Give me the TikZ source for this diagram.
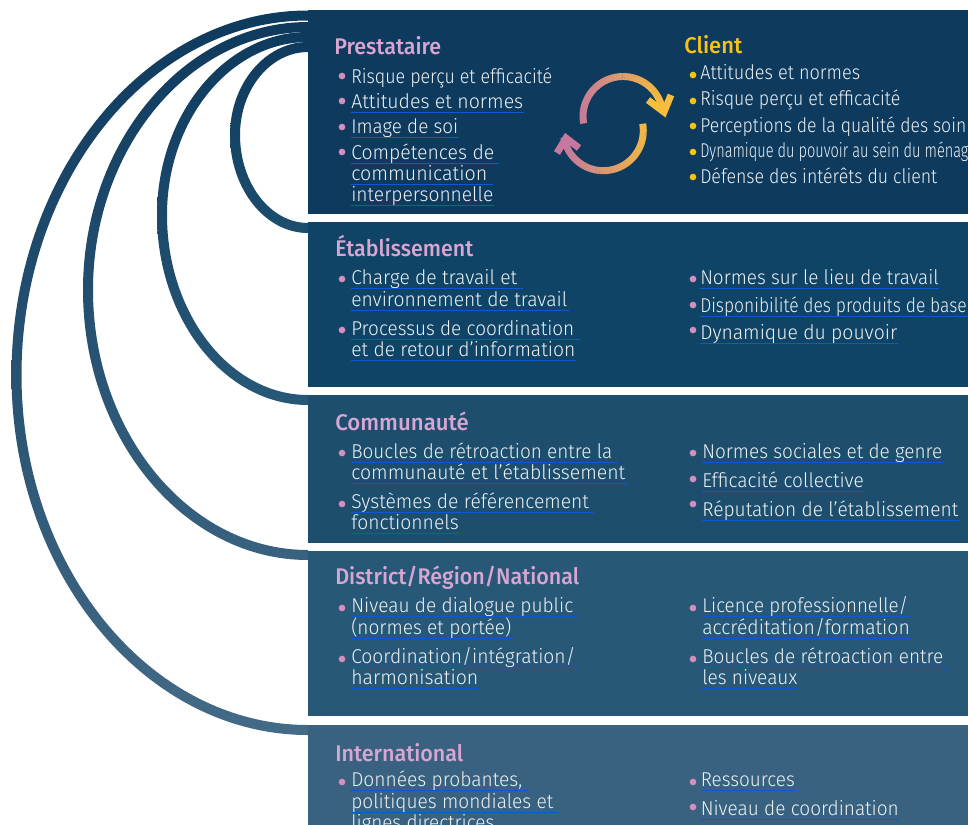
\documentclass[tikz,border=0pt]{standalone}
\usepackage{fontspec}
\setmainfont{Fira Sans}[UprightFont=* Light,BoldFont=* Medium]
\definecolor{bandA}{HTML}{0E3A5E}
\definecolor{bandB}{HTML}{0F4466}
\definecolor{bandC}{HTML}{1D4E6E}
\definecolor{bandD}{HTML}{285877}
\definecolor{bandE}{HTML}{38627F}
\definecolor{arcEnd}{HTML}{436A86}
\definecolor{pinkT}{HTML}{D8A6D2}
\definecolor{pinkB}{HTML}{D48FBE}
\definecolor{yellowT}{HTML}{F7C311}
\definecolor{ulblue}{HTML}{0A5AD2}
\definecolor{bodytxt}{HTML}{EEF2F5}
\definecolor{loopL}{HTML}{C6789F}
\definecolor{loopR}{HTML}{F6BE3A}
\newcounter{tn}
\newlength{\pxu}\setlength{\pxu}{0.75pt}
\tikzset{
  x=0.75pt,y=-0.75pt,
  band/.style={fill=#1,draw=none},
  title/.style={anchor=base west,inner sep=0pt,font=\fontsize{17}{19}\selectfont\bfseries},
  line/.style={anchor=base west,inner sep=0pt,text=bodytxt,font=\fontsize{15}{17}\selectfont},
  ulpath/.style={draw=ulblue,line width=1.1pt},
  dot/.style={circle,fill=#1,inner sep=0pt,minimum size=5pt},
  loopseg/.style={line width=5.2pt},
}
% text with a target width in px
\newcommand{\fitw}[2]{\resizebox{#1\pxu}{\height}{#2}}
\newcommand{\tl}[4]{\stepcounter{tn}\node[line] (t\thetn) at (#1,#2) {\fitw{#3}{#4}};}
% x, baseline, text width, extra underline width, text
\newcommand{\ult}[5]{\stepcounter{tn}\node[line] (t\thetn) at (#1,#2) {\fitw{#3}{#5}};
  \draw[ulpath] ([yshift=-3.2pt]t\thetn.base west) -- ([xshift=#4\pxu,yshift=-3.2pt]t\thetn.base east);}
\newcommand{\ttl}[6]{\node[title,text=#4] (#1) at (#2,#3) {\fitw{#5}{#6}};}
\newcommand{\arcband}[7]{%
  \shade[top color=#6,bottom color=#7]
   (308,#2-#5) .. controls (308-.55*308+.55*#1-.55*#5,#2-#5) and (#1-#5,#3-.55*#3+.55*#2-.55*#5) .. (#1-#5,#3)
   .. controls (#1-#5,#3+.55*#4-.55*#3+.55*#5) and (308-.55*308+.55*#1-.55*#5,#4+#5) .. (308,#4+#5)
   -- (308,#4-#5)
   .. controls (308-.55*308+.55*#1+.55*#5,#4-#5) and (#1+#5,#3+.55*#4-.55*#3-.55*#5) .. (#1+#5,#3)
   .. controls (#1+#5,#3-.55*#3+.55*#2+.55*#5) and (308-.55*308+.55*#1+.55*#5,#2+#5) .. (308,#2+#5)
   -- cycle;}
\begin{document}
\begin{tikzpicture}
\useasboundingbox (0,0) rectangle (968,825);
\clip (0,0) rectangle (968,825);
\fill[white] (0,0) rectangle (968,825);
% arcs
\arcband{16.5}{15.5}{375}{730}{5}{bandA}{arcEnd}
\arcband{88}{27}{290}{555}{5}{bandA}{bandE}
\arcband{162}{37}{215}{400}{5}{bandA}{bandD}
\arcband{235}{47}{135}{228}{5}{bandA}{bandC}
% bands
\fill[band=bandA] (308,10) rectangle (968,214);
\fill[band=bandB] (308,222) rectangle (968,387);
\fill[band=bandC] (308,395) rectangle (968,543);
\fill[band=bandD] (308,551) rectangle (968,716);
\fill[band=bandE] (308,725) rectangle (968,825);
% loop arrows
\foreach \a in {190,187,...,10}{
  \pgfmathsetmacro{\xa}{623+40*cos(\a)}
  \pgfmathsetmacro{\m}{max(0,min(100,100*(1-(\xa-575)/90)))}
  \draw[loopseg,color=loopL!\m!loopR] ({623+40*cos(\a)},{116.5-40*sin(\a)}) -- ({623+40*cos(\a-3.5)},{116.5-40*sin(\a-3.5)});
}
\draw[loopseg,color=loopR,line join=miter] (648,100) -- (664,112) -- (671,95);
\foreach \a in {10,7,...,-168}{
  \pgfmathsetmacro{\xa}{603.3+40*cos(\a)}
  \pgfmathsetmacro{\m}{max(0,min(100,100*(1-(\xa-565)/90)))}
  \draw[loopseg,color=loopL!\m!loopR] ({603.3+40*cos(\a)},{130.7-40*sin(\a)}) -- ({603.3+40*cos(\a-3.5)},{130.7-40*sin(\a-3.5)});
}
\draw[loopseg,color=loopL,line join=miter] (557,153) -- (566,138) -- (579,148);
% Prestataire
\ttl{tPres}{334}{54}{pinkT}{107}{Prestataire}
\ttl{tCli}{684}{53}{yellowT}{58}{Client}
\foreach \y in {76,101,127,152}{\node[dot=pinkB] at (342,\y) {};}
\tl{351}{83}{201}{Risque perçu et efficacité}
\ult{351}{108}{172}{0}{Attitudes et normes}
\ult{351}{133}{107}{0}{Image de soi}
\ult{351}{159}{143}{4}{Compétences de}
\ult{351}{180}{136}{5}{communication}
\ult{351}{201}{142}{0}{interpersonnelle}
\foreach \y in {75,101,126,152,177}{\node[dot=yellowT] at (693,\y) {};}
\tl{700}{79}{160}{Attitudes et normes}
\tl{700}{105.5}{200}{Risque perçu et efficacité}
\tl{700}{132}{266}{Perceptions de la qualité des soin}
\tl{700}{157}{268}{Dynamique du pouvoir au sein du ménag}
\tl{700}{183}{237}{Défense des intérêts du client}
% Etablissement
\ttl{tEta}{335}{256}{pinkT}{138}{Établissement}
\foreach \y in {279,330}{\node[dot=pinkB] at (342,\y) {};}
\ult{351}{284}{166}{5}{Charge de travail et}
\ult{351}{306}{216}{1}{environnement de travail}
\ult{351}{335}{223}{5}{Processus de coordination}
\ult{351}{356}{224}{0}{et de retour d’information}
\foreach \y in {279,305,330}{\node[dot=pinkB] at (693,\y) {};}
\ult{700}{284}{238.5}{0}{Normes sur le lieu de travail}
\ult{700}{312}{266.5}{1}{Disponibilité des produits de base}
\ult{700}{339}{197}{0}{Dynamique du pouvoir}
% Communaute
\ttl{tCom}{335}{430}{pinkT}{133.5}{Communauté}
\foreach \y in {453,504}{\node[dot=pinkB] at (342,\y) {};}
\ult{351}{458}{261}{5}{Boucles de rétroaction entre la}
\ult{351}{479}{274}{1}{communauté et l’établissement}
\ult{351}{508}{237.6}{5}{Systèmes de référencement}
\ult{351}{529}{107.5}{0}{fonctionnels}
\foreach \y in {453,479,504}{\node[dot=pinkB] at (693,\y) {};}
\ult{702}{458}{240}{0}{Normes sociales et de genre}
\ult{702}{487}{161.6}{0}{Efficacité collective}
\ult{702}{516}{256}{0}{Réputation de l’établissement}
% District
\ttl{tDis}{335}{584}{pinkT}{244}{District/Région/National}
\foreach \y in {608,659}{\node[dot=pinkB] at (342,\y) {};}
\ult{351}{612}{222}{4}{Niveau de dialogue public}
\ult{351}{634}{160}{1}{(normes et portée)}
\ult{351}{663}{224.4}{1}{Coordination/intégration/}
\ult{351}{684}{127}{0}{harmonisation}
\foreach \y in {608,659}{\node[dot=pinkB] at (693,\y) {};}
\ult{702}{612}{206}{0}{Licence professionnelle/}
\ult{702}{634}{207.5}{0}{accréditation/formation}
\ult{702}{663}{241}{5}{Boucles de rétroaction entre}
\ult{702}{684}{95}{0}{les niveaux}
% International
\ttl{tInt}{335}{761}{pinkT}{128}{International}
\node[dot=pinkB] at (342,782) {};
\ult{351}{786}{171}{6}{Données probantes,}
\ult{351}{808}{202}{4}{politiques mondiales et}
\tl{351}{829}{143}{lignes directrices}
\foreach \y in {782,807}{\node[dot=pinkB] at (693,\y) {};}
\ult{700.5}{786}{94}{0}{Ressources}
\ult{700.5}{815}{198}{0}{Niveau de coordination}
\end{tikzpicture}
\end{document}
